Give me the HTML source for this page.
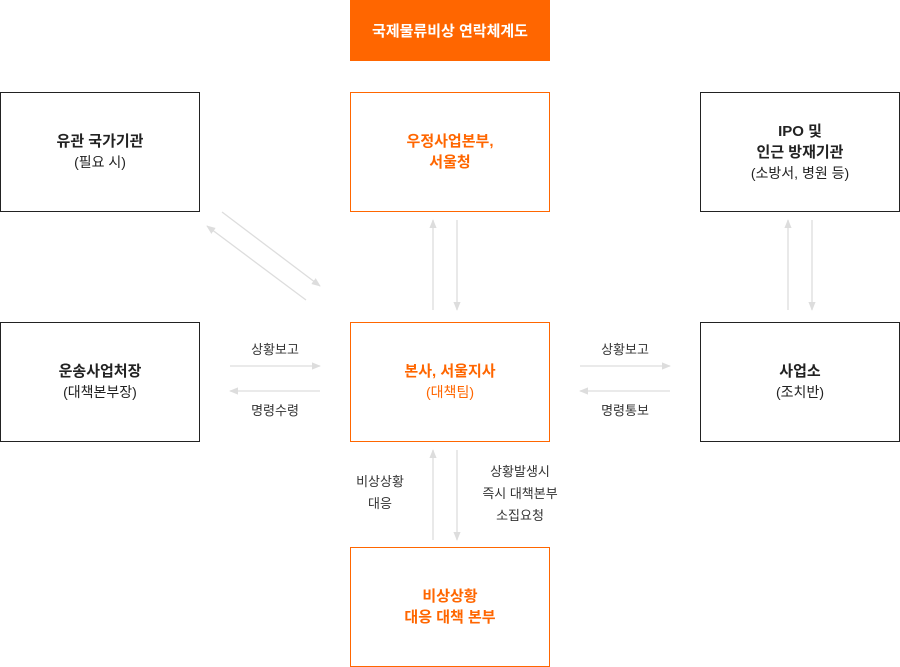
<!DOCTYPE html>
<html><head><meta charset="utf-8"><style>
body{margin:0;width:900px;height:667px;background:#fff;position:relative;overflow:hidden;font-family:"Liberation Sans","Noto Sans CJK KR",sans-serif;color:#222}
.b{position:absolute;width:198px;height:118px;border:1px solid #222;display:flex;flex-direction:column;align-items:center;justify-content:center;text-align:center;font-size:14px;line-height:21px}
.o{border-color:#f60;color:#f60}
.b strong{font-size:15px}
.t{position:absolute;left:350px;top:0;width:200px;height:61px;background:#f60;color:#fff;font-weight:bold;font-size:15px;display:flex;align-items:center;justify-content:center}
.l{position:absolute;font-size:13px;text-align:center;line-height:22px;color:#333}
svg{position:absolute;left:0;top:0}
</style></head><body>
<div class="t">국제물류비상 연락체계도</div>
<div class="b" style="left:0;top:92px"><strong>유관 국가기관</strong>(필요 시)</div>
<div class="b o" style="left:350px;top:92px"><strong>우정사업본부,<br>서울청</strong></div>
<div class="b" style="left:700px;top:92px"><strong>IPO 및<br>인근 방재기관</strong>(소방서, 병원 등)</div>
<div class="b" style="left:0;top:322px"><strong>운송사업처장</strong>(대책본부장)</div>
<div class="b o" style="left:350px;top:322px"><strong>본사, 서울지사</strong>(대책팀)</div>
<div class="b" style="left:700px;top:322px"><strong>사업소</strong>(조치반)</div>
<div class="b o" style="left:350px;top:547px"><strong>비상상황<br>대응 대책 본부</strong></div>
<div class="l" style="left:235px;top:339px;width:80px">상황보고</div>
<div class="l" style="left:235px;top:400px;width:80px">명령수령</div>
<div class="l" style="left:585px;top:339px;width:80px">상황보고</div>
<div class="l" style="left:585px;top:400px;width:80px">명령통보</div>
<div class="l" style="left:340px;top:471px;width:80px">비상상황<br>대응</div>
<div class="l" style="left:470px;top:461px;width:100px">상황발생시<br>즉시 대책본부<br>소집요청</div>
<svg width="900" height="667">
<defs><marker id="a" viewBox="0 0 10 10" refX="9" refY="5" markerWidth="7" markerHeight="7" orient="auto"><path d="M0,1L10,5L0,9z" fill="#ddd"/></marker></defs>
<g stroke="#ddd" stroke-width="1.3" fill="none" marker-end="url(#a)">
<line x1="222" y1="212" x2="320" y2="286"/>
<line x1="306" y1="300" x2="207" y2="226"/>
<line x1="433" y1="310" x2="433" y2="220"/>
<line x1="457" y1="220" x2="457" y2="310"/>
<line x1="230" y1="366" x2="320" y2="366"/>
<line x1="320" y1="391" x2="230" y2="391"/>
<line x1="580" y1="366" x2="670" y2="366"/>
<line x1="670" y1="391" x2="580" y2="391"/>
<line x1="788" y1="310" x2="788" y2="220"/>
<line x1="812" y1="220" x2="812" y2="310"/>
<line x1="433" y1="540" x2="433" y2="450"/>
<line x1="457" y1="450" x2="457" y2="540"/>
</g></svg>
</body></html>
